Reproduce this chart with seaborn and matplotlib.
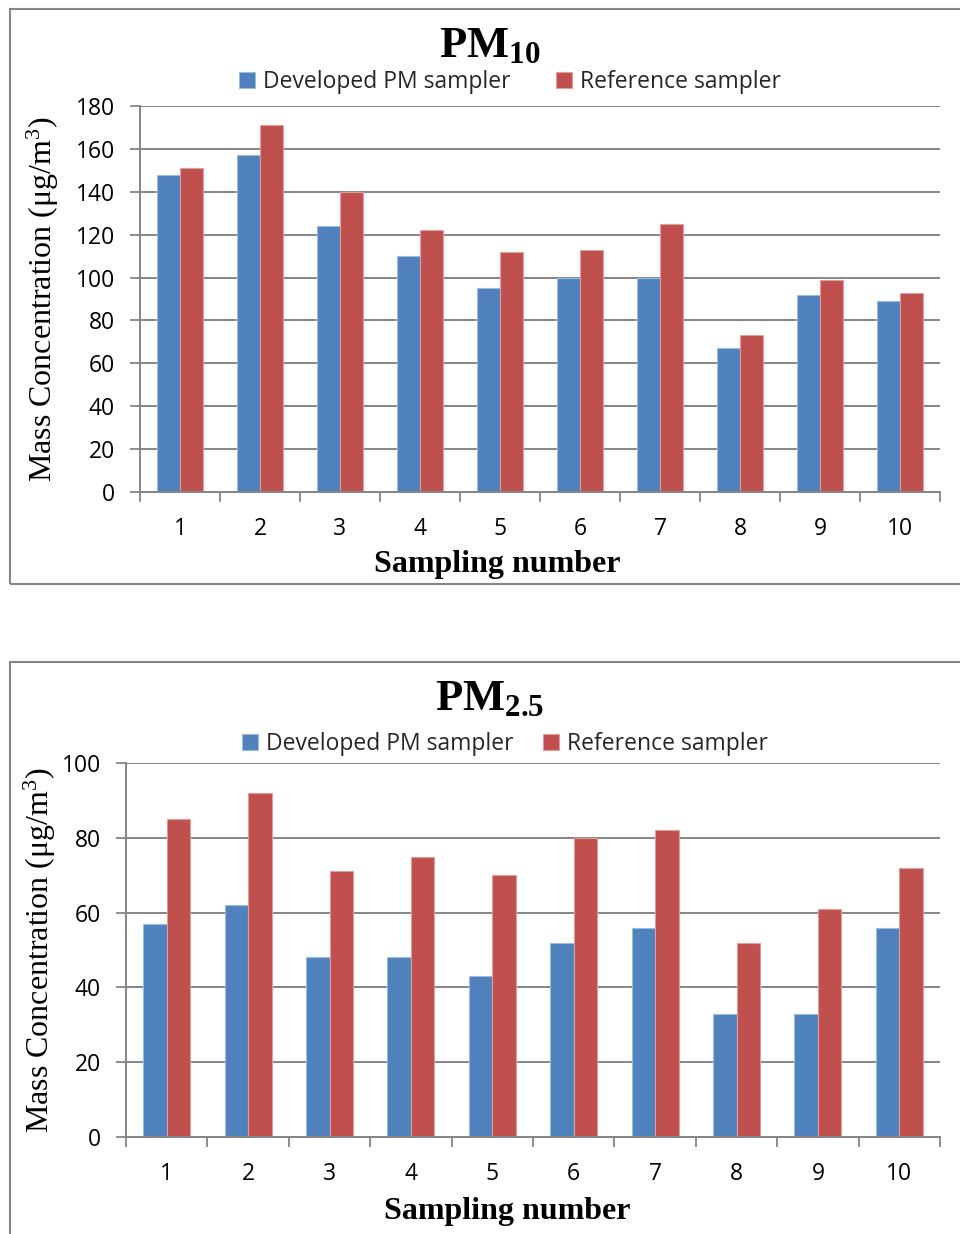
import numpy as np
import pandas as pd
import matplotlib
matplotlib.use("Agg")
import matplotlib.pyplot as plt
import seaborn as sns
from matplotlib.patches import Rectangle
from matplotlib.colors import to_rgb

# ---------------- data ----------------
samples = ["1", "2", "3", "4", "5", "6", "7", "8", "9", "10"]
series_names = ["Developed PM sampler", "Reference sampler"]
pm10_developed = [148, 157, 124, 110, 95, 100, 100, 67, 92, 89]
pm10_reference = [151, 171, 140, 122, 112, 113, 125, 73, 99, 93]
pm25_developed = [57, 62, 48, 48, 43, 52, 56, 33, 33, 56]
pm25_reference = [85, 92, 71, 75, 70, 80, 82, 52, 61, 72]
pm10_yticks = [0, 20, 40, 60, 80, 100, 120, 140, 160, 180]
pm25_yticks = [0, 20, 40, 60, 80, 100]
title_pm10 = r"$\mathbf{PM}_{\mathbf{10}}$"
title_pm25 = r"$\mathbf{PM}_{\mathbf{2.5}}$"
x_label = "Sampling number"
y_label = "Mass Concentration (\u03bcg/m$^{3}$)"

# ---------------- style ----------------
sns.set_theme(style="white")
plt.rcParams["font.family"] = ["Open Sans", "DejaVu Sans"]
plt.rcParams["mathtext.fontset"] = "custom"
plt.rcParams["mathtext.rm"] = "Liberation Serif"
plt.rcParams["mathtext.it"] = "Liberation Serif:italic"
plt.rcParams["mathtext.bf"] = "Liberation Serif:bold"

BLUE = "#4F81BD"
RED = "#C0504D"
GRAY = "#868686"
SERIF = "Liberation Serif"
TICK_FS = 16.5
LEG_FS = 16.5

W, H = 960, 1234
fig = plt.figure(figsize=(W / 100, H / 100), dpi=100)


def frac_box(left, top, right, bottom):
    return [left / W, 1 - bottom / H, (right - left) / W, (bottom - top) / H]


def make_df(dev, ref):
    return pd.DataFrame({
        "sample": samples * 2,
        "sampler": [series_names[0]] * len(samples) + [series_names[1]] * len(samples),
        "value": list(dev) + list(ref),
    })


def lighten(c, amt=0.45):
    r, g, b = to_rgb(c)
    return (r + (1 - r) * amt, g + (1 - g) * amt, b + (1 - b) * amt)


def draw_panel(ax, df, yticks, ymax, title, title_xy, legend_xy,
               ylabel_x, xlabel_xy, colspace):
    sns.barplot(data=df, x="sample", y="value", hue="sampler",
                order=samples, hue_order=series_names,
                palette=[BLUE, RED], width=0.575, gap=0,
                saturation=1, linewidth=0.8, edgecolor="white",
                errorbar=None, ax=ax)
    for p in ax.patches:
        fc = p.get_facecolor()
        p.set_edgecolor(lighten(fc))
    ax.set_xlim(-0.5, len(samples) - 0.5)
    ax.set_ylim(0, ymax)
    ax.set_yticks(yticks)
    ax.set_yticklabels([str(t) for t in yticks])
    ax.set_xticks(np.arange(-0.5, len(samples), 1), minor=True)
    ax.tick_params(axis="x", which="major", length=0, pad=18, labelsize=TICK_FS,
                   labelcolor="black")
    ax.tick_params(axis="x", which="minor", length=7, width=1.3, color=GRAY,
                   direction="out", bottom=True)
    ax.tick_params(axis="y", which="major", length=7, width=1.3, color=GRAY,
                   direction="out", left=True, pad=11, labelsize=TICK_FS,
                   labelcolor="black")
    ax.yaxis.grid(True, color=GRAY, linewidth=1.4)
    ax.xaxis.grid(False)
    ax.set_axisbelow(True)
    for s in ["top", "right"]:
        ax.spines[s].set_visible(False)
    for s in ["left", "bottom"]:
        ax.spines[s].set_color(GRAY)
        ax.spines[s].set_linewidth(1.4)

    ax.set_ylabel(y_label, fontfamily=SERIF, fontsize=23, color="black")
    ax.yaxis.set_label_coords(ylabel_x, 0.5)
    ax.set_xlabel(x_label, fontfamily=SERIF, fontsize=23, fontweight="bold",
                  color="black")
    ax.xaxis.label.set_va("center")
    ax.xaxis.set_label_coords(*xlabel_xy)

    handles, labels = ax.get_legend_handles_labels()
    if ax.get_legend() is not None:
        ax.get_legend().remove()
    fig.legend(handles, labels, loc="center",
               bbox_to_anchor=(legend_xy[0] / W, 1 - legend_xy[1] / H),
               bbox_transform=fig.transFigure, ncol=2, frameon=False,
               fontsize=LEG_FS, handlelength=0.7, handleheight=0.7,
               handletextpad=0.35, columnspacing=colspace, borderaxespad=0)

    fig.text(title_xy[0] / W, 1 - title_xy[1] / H, title, ha="center",
             va="baseline", fontsize=32, color="black")


# panel borders
fig.patches.append(Rectangle((10 / W, 1 - 584 / H), 960 / W, (584 - 9) / H,
                             transform=fig.transFigure, fill=False,
                             edgecolor=GRAY, linewidth=1.5))
fig.patches.append(Rectangle((10 / W, 1 - 1240 / H), 960 / W, (1240 - 662) / H,
                             transform=fig.transFigure, fill=False,
                             edgecolor=GRAY, linewidth=1.5))

ax1 = fig.add_axes(frac_box(140, 106, 940, 492))
draw_panel(ax1, make_df(pm10_developed, pm10_reference), pm10_yticks, 180,
           title_pm10, (490, 57), (510, 82),
           (61 - 140) / 800, ((497 - 140) / 800, (492 - 564) / 386), 2.0)

ax2 = fig.add_axes(frac_box(126, 763, 940, 1137))
draw_panel(ax2, make_df(pm25_developed, pm25_reference), pm25_yticks, 100,
           title_pm25, (490, 710), (505, 744),
           (58 - 126) / 814, ((507 - 126) / 814, (1137 - 1211) / 374), 1.25)

fig.savefig("out.png", dpi=100)
